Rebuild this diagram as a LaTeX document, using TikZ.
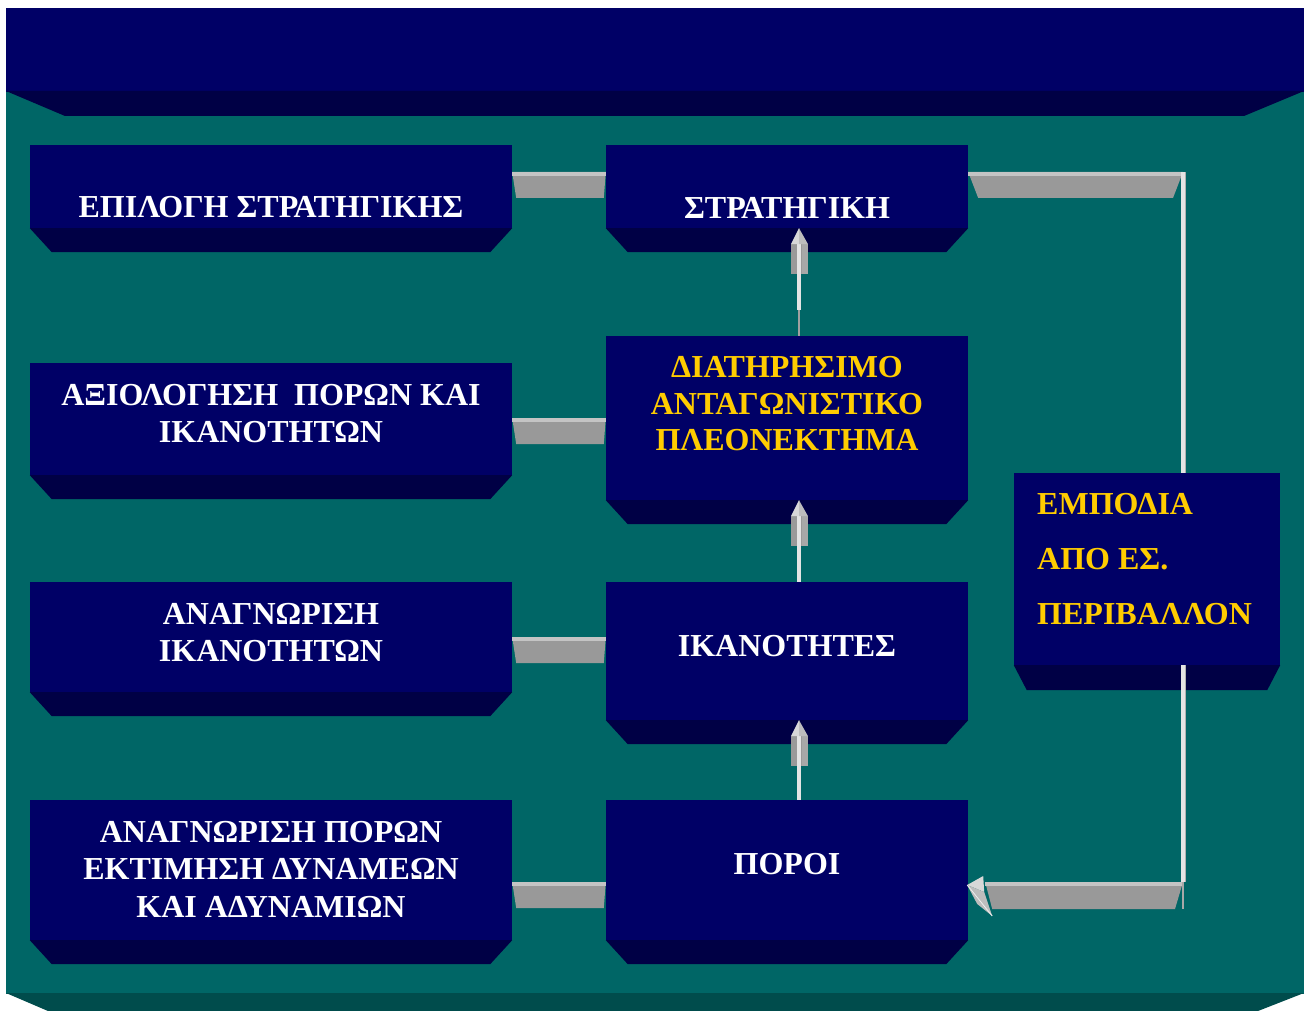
\documentclass[tikz,border=0pt]{standalone}
\usepackage{fontspec}
\setmainfont{Liberation Serif}
\usetikzlibrary{calc}

\definecolor{navy}{HTML}{000066}
\definecolor{navydk}{HTML}{000045}
\definecolor{panel}{HTML}{006666}
\definecolor{paneldk}{HTML}{004C4C}
\definecolor{bargray}{HTML}{999999}
\definecolor{barlight}{HTML}{C4C4C4}
\definecolor{railwhite}{HTML}{E4E4E4}
\definecolor{railshade}{HTML}{B0B0B0}
\definecolor{blockside}{HTML}{A8A8A8}
\definecolor{headlit}{HTML}{D8D8D8}
\definecolor{headdim}{HTML}{BDBDBD}
\definecolor{stem}{HTML}{A0A0A0}
\definecolor{edgehi}{HTML}{EEEEEE}
\definecolor{gold}{HTML}{FFCC00}

\tikzset{
  facebox/.style={fill=navy, draw=none, inner sep=0pt},
  lbl/.style={text=white, font=\fontsize{32}{37.5}\selectfont\bfseries,
              align=center, inner sep=0pt},
  goldlbl/.style={lbl, text=gold},
}

% bottom bevel under a box face: #1 node, #2 horizontal inset, #3 depth
\newcommand\boxbevel[3]{%
  \fill[navydk] (#1.south west) -- (#1.south east) -- ++(-#2,#3)
    -- ($(#1.south west)+(#2,#3)$) -- cycle;}

% flat grey bar joining a left box to a right box, top edge at coordinate #3
\newcommand\hconn[3]{%
  \fill[bargray] (#1.east |- #3) -- (#2.west |- #3) -- ++(-2,26)
    -- ($(#1.east |- #3)+(4,26)$) -- cycle;
  \fill[barlight] (#1.east |- #3) rectangle ($(#2.west |- #3)+(0,4)$);}

% upward block arrow, tip at the bottom of node #1, on the vertical through (ax)
\newcommand\upblock[1]{%
  \coordinate (tip) at (ax |- #1.south);
  \fill[bargray] ($(tip)+(-8,16)$) rectangle ($(tip)+(9,46)$);
  \fill[blockside] ($(tip)+(3,16)$) rectangle ($(tip)+(9,46)$);
  \fill[railwhite] ($(tip)+(-2,16)$) rectangle ($(tip)+(2,46)$);
  \fill[headlit] (tip) -- ($(tip)+(-8,16)$) -- ($(tip)+(0,16)$) -- cycle;
  \fill[headdim] (tip) -- ($(tip)+(0,16)$) -- ($(tip)+(9,16)$) -- cycle;}

\begin{document}
\begin{tikzpicture}[x=1pt, y=-1pt]
\useasboundingbox (0,0) rectangle (1307,1011);
\fill[white] (0,0) rectangle (1307,1011);

% panel and title banner
\fill[panel] (6,90) rectangle (1304,994);
\fill[paneldk] (6,993) -- (1304,993) -- (1258,1011) -- (48,1011) -- cycle;
\fill[navy] (6,8) rectangle (1304,92);
\fill[navydk] (6,91) -- (1304,91) -- (1244,116) -- (65,116) -- cycle;

% left column
\node[facebox, minimum width=482pt, minimum height=83pt]  (l1) at (271,186.5) {};
\node[facebox, minimum width=482pt, minimum height=112pt] (l2) at (271,419) {};
\node[facebox, minimum width=482pt, minimum height=110pt] (l3) at (271,637) {};
\node[facebox, minimum width=482pt, minimum height=140pt] (l4) at (271,870) {};
% middle column
\node[facebox, minimum width=362pt, minimum height=83pt]  (m1) at (787,186.5) {};
\node[facebox, minimum width=362pt, minimum height=164pt] (m2) at (787,418) {};
\node[facebox, minimum width=362pt, minimum height=138pt] (m3) at (787,651) {};
\node[facebox, minimum width=362pt, minimum height=140pt] (m4) at (787,870) {};
% side box
\node[facebox, minimum width=266pt, minimum height=192pt] (r1) at (1147,569) {};

\foreach \b in {l1,l2,l3,l4,m1,m2,m3,m4} {\boxbevel{\b}{22}{24}}
\boxbevel{r1}{13}{25}

% labels
\node[lbl] (tl1) at (271,207.5) {ΕΠΙΛΟΓΗ ΣΤΡΑΤΗΓΙΚΗΣ};
\node[lbl] (tl2) at (271,413.5) {ΑΞΙΟΛΟΓΗΣΗ\ \ ΠΟΡΩΝ ΚΑΙ\\ΙΚΑΝΟΤΗΤΩΝ};
\node[lbl] (tl3) at (271,632.5) {ΑΝΑΓΝΩΡΙΣΗ\\ΙΚΑΝΟΤΗΤΩΝ};
\node[lbl] (tl4) at (271,869) {ΑΝΑΓΝΩΡΙΣΗ ΠΟΡΩΝ\\ΕΚΤΙΜΗΣΗ ΔΥΝΑΜΕΩΝ\\ΚΑΙ ΑΔΥΝΑΜΙΩΝ};
\node[lbl] (tm1) at (787,207.5) {ΣΤΡΑΤΗΓΙΚΗ};
\node[goldlbl, font=\fontsize{32}{36.5}\selectfont\bfseries] (tm2) at (787,404)
  {ΔΙΑΤΗΡΗΣΙΜΟ\\ΑΝΤΑΓΩΝΙΣΤΙΚΟ\\ΠΛΕΟΝΕΚΤΗΜΑ};
\node[lbl] (tm3) at (787,646.5) {ΙΚΑΝΟΤΗΤΕΣ};
\node[lbl] (tm4) at (787,864.5) {ΠΟΡΟΙ};
\node[goldlbl, align=left, anchor=west, font=\fontsize{32}{55}\selectfont\bfseries]
  (tr1) at (1037,559.5) {ΕΜΠΟΔΙΑ\\ΑΠΟ ΕΣ.\\ΠΕΡΙΒΑΛΛΟΝ};

% horizontal links between the columns
\coordinate (y1) at (0,172);
\coordinate (y2) at (0,418);
\coordinate (y3) at (0,637);
\coordinate (y4) at (0,882);
\hconn{l1}{m1}{y1}
\hconn{l2}{m2}{y2}
\hconn{l3}{m3}{y3}
\hconn{l4}{m4}{y4}

% feedback loop on the right
\coordinate (rail) at (1183,0);
\fill[bargray] (m1.east |- y1) -- (rail |- y1) -- ++(-10,26)
  -- ($(m1.east |- y1)+(10,26)$) -- cycle;
\fill[barlight] (m1.east |- y1) rectangle ($(rail |- y1)+(0,4)$);
\fill[railwhite] ($(rail |- y1)+(-2,0)$) rectangle ($(rail |- r1.north)+(2,0)$);
\fill[railshade] ($(rail |- y1)+(2,0)$) rectangle ($(rail |- r1.north)+(3,0)$);

\fill[railwhite] ($(rail |- r1.south)+(-2,0)$) rectangle ($(rail |- y4)+(2,0)$);
\fill[railshade] ($(rail |- r1.south)+(2,0)$) rectangle ($(rail |- y4)+(3,0)$);
\fill[bargray] ($(m4.east |- y4)+(17,0)$) -- (rail |- y4) -- ++(-8,27)
  -- ($(m4.east |- y4)+(24,27)$) -- cycle;
\fill[barlight] ($(m4.east |- y4)+(17,0)$) rectangle ($(rail |- y4)+(0,4)$);
\draw[blockside, line width=1.5pt] (rail |- y4) -- ++(0,27);
% arrowhead into the resources box
\coordinate (ltip) at ($(m4.east |- y4)+(-1,3)$);
\fill[headlit] (ltip) -- ($(ltip)+(16,-9)$) -- ($(ltip)+(17,7)$) -- cycle;
\fill[headdim] (ltip) -- ($(ltip)+(17,7)$) -- ($(ltip)+(25,31)$)
  -- ($(ltip)+(10,19)$) -- cycle;
\draw[edgehi, line width=0.8pt] (ltip) -- ($(ltip)+(25,31)$);

% upward arrows in the middle column
\coordinate (ax) at (799,0);
\coordinate (stemtop) at (0,274);
\coordinate (stemlit) at (0,310);
\draw[stem, line width=2pt] (ax |- m2.north) -- (ax |- stemtop);
\fill[railwhite] ($(ax |- m1.south)+(-2,46)$) rectangle ($(ax |- stemlit)+(2,0)$);
\upblock{m1}
\fill[railwhite] ($(ax |- m2.south)+(-2,46)$) rectangle ($(ax |- m3.north)+(2,0)$);
\upblock{m2}
\fill[railwhite] ($(ax |- m3.south)+(-2,46)$) rectangle ($(ax |- m4.north)+(2,0)$);
\upblock{m3}
\end{tikzpicture}
\end{document}
